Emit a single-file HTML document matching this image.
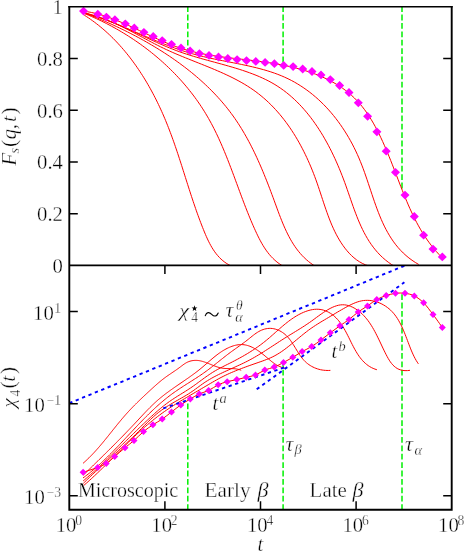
<!DOCTYPE html><html><head><meta charset="utf-8"><style>html,body{margin:0;padding:0;background:#fff}svg{display:block;will-change:transform;opacity:0.9999}text{font-family:"Liberation Serif",serif;fill:#000;stroke:#fff;stroke-width:0.35px}</style></head><body>
<svg width="464" height="551" viewBox="0 0 464 551">
<rect width="464" height="551" fill="#fff"/>
<defs><clipPath id="cu"><rect x="69.30" y="6.80" width="382.40" height="258.60"/></clipPath><clipPath id="cl"><rect x="69.30" y="265.40" width="382.40" height="244.30"/></clipPath></defs>
<path d="M187.80,6.20 V53.50" stroke="#00f000" stroke-width="1.5" stroke-dasharray="5.8 2.6" fill="none"/>
<path d="M187.80,510.00 V402.00" stroke="#00f000" stroke-width="1.5" stroke-dasharray="5.8 2.6" fill="none"/>
<path d="M283.10,6.20 V65.40" stroke="#00f000" stroke-width="1.5" stroke-dasharray="5.8 2.6" fill="none"/>
<path d="M283.10,510.00 V364.00" stroke="#00f000" stroke-width="1.5" stroke-dasharray="5.8 2.6" fill="none"/>
<path d="M402.00,6.20 V190.00" stroke="#00f000" stroke-width="1.5" stroke-dasharray="5.8 2.6" fill="none"/>
<path d="M402.00,510.00 V294.00" stroke="#00f000" stroke-width="1.5" stroke-dasharray="5.8 2.6" fill="none"/>
<g fill="none" stroke="#ff0000" stroke-width="1" clip-path="url(#cu)">
<path d="M84.21,15.09 L86.30,16.44 L88.37,17.81 L90.42,19.22 L92.44,20.66 L94.43,22.13 L96.41,23.63 L98.36,25.16 L100.28,26.72 L102.19,28.30 L104.07,29.92 L105.93,31.56 L107.76,33.23 L109.58,34.92 L111.37,36.64 L113.13,38.39 L114.88,40.16 L116.60,41.96 L118.31,43.78 L119.98,45.62 L121.64,47.48 L123.28,49.37 L124.89,51.28 L126.48,53.21 L128.05,55.16 L129.60,57.13 L131.13,59.12 L132.64,61.13 L134.12,63.16 L135.59,65.20 L137.03,67.27 L138.46,69.35 L139.86,71.44 L141.24,73.55 L142.60,75.68 L143.94,77.82 L145.26,79.98 L146.56,82.15 L147.84,84.34 L149.10,86.53 L150.34,88.74 L151.56,90.96 L152.76,93.20 L153.94,95.44 L155.10,97.69 L156.25,99.96 L157.37,102.23 L158.47,104.51 L159.56,106.80 L160.62,109.09 L161.67,111.40 L162.70,113.71 L163.71,116.02 L164.70,118.34 L165.67,120.67 L166.62,123.00 L167.56,125.34 L168.48,127.68 L169.39,130.02 L170.28,132.37 L171.16,134.72 L172.02,137.08 L172.88,139.44 L173.72,141.80 L174.55,144.17 L175.37,146.54 L176.18,148.91 L176.98,151.28 L177.77,153.66 L178.56,156.03 L179.34,158.41 L180.11,160.80 L180.88,163.18 L181.65,165.56 L182.41,167.95 L183.17,170.33 L183.93,172.72 L184.68,175.11 L185.44,177.50 L186.20,179.88 L186.95,182.27 L187.71,184.66 L188.47,187.04 L189.24,189.43 L190.01,191.81 L190.78,194.20 L191.56,196.58 L192.35,198.96 L193.14,201.34 L193.94,203.72 L194.75,206.09 L195.57,208.46 L196.39,210.83 L197.23,213.20 L198.08,215.56 L198.95,217.92 L199.82,220.28 L200.71,222.64 L201.61,224.99 L202.53,227.33 L203.47,229.67 L204.42,232.01 L205.40,234.34 L206.40,236.65 L207.44,238.94 L208.51,241.19 L209.64,243.42 L210.82,245.60 L212.05,247.73 L213.36,249.80 L214.73,251.81 L216.18,253.76 L217.72,255.63 L219.34,257.42 L221.06,259.12 L222.88,260.72 L224.82,262.23 L226.86,263.63 L229.03,264.91 L231.32,266.07"/>
<path d="M83.71,13.24 L86.28,14.27 L88.85,15.34 L91.40,16.44 L93.95,17.56 L96.49,18.71 L99.02,19.89 L101.55,21.10 L104.06,22.34 L106.56,23.60 L109.06,24.90 L111.54,26.22 L114.01,27.56 L116.47,28.94 L118.91,30.34 L121.34,31.77 L123.76,33.22 L126.17,34.70 L128.56,36.21 L130.94,37.74 L133.30,39.30 L135.65,40.88 L137.98,42.50 L140.29,44.13 L142.59,45.79 L144.86,47.48 L147.13,49.19 L149.37,50.92 L151.59,52.68 L153.79,54.47 L155.98,56.28 L158.14,58.11 L160.29,59.97 L162.41,61.85 L164.51,63.75 L166.58,65.68 L168.64,67.63 L170.67,69.60 L172.68,71.60 L174.66,73.62 L176.62,75.66 L178.56,77.73 L180.47,79.81 L182.35,81.92 L184.21,84.05 L186.04,86.20 L187.84,88.38 L189.62,90.57 L191.36,92.79 L193.08,95.03 L194.77,97.28 L196.43,99.56 L198.06,101.86 L199.66,104.18 L201.22,106.52 L202.76,108.88 L204.26,111.26 L205.73,113.66 L207.17,116.08 L208.58,118.52 L209.95,120.97 L211.30,123.44 L212.61,125.94 L213.90,128.44 L215.16,130.96 L216.40,133.50 L217.61,136.05 L218.80,138.61 L219.96,141.19 L221.11,143.78 L222.24,146.37 L223.35,148.98 L224.44,151.60 L225.52,154.23 L226.58,156.86 L227.63,159.50 L228.67,162.15 L229.70,164.80 L230.71,167.46 L231.72,170.12 L232.73,172.79 L233.72,175.46 L234.72,178.13 L235.70,180.80 L236.69,183.47 L237.68,186.15 L238.66,188.82 L239.65,191.49 L240.64,194.15 L241.63,196.82 L242.63,199.47 L243.64,202.13 L244.65,204.78 L245.67,207.42 L246.70,210.06 L247.74,212.69 L248.80,215.31 L249.87,217.92 L250.95,220.52 L252.05,223.11 L253.17,225.69 L254.30,228.25 L255.46,230.80 L256.63,233.34 L257.84,235.86 L259.08,238.35 L260.37,240.80 L261.70,243.21 L263.09,245.58 L264.54,247.89 L266.05,250.14 L267.65,252.32 L269.32,254.43 L271.08,256.46 L272.94,258.40 L274.90,260.25 L276.96,262.01 L279.14,263.65 L281.44,265.18 L283.87,266.60"/>
<path d="M84.00,12.68 L86.70,13.74 L89.40,14.81 L92.11,15.91 L94.83,17.02 L97.54,18.15 L100.26,19.30 L102.99,20.47 L105.71,21.66 L108.44,22.87 L111.16,24.10 L113.88,25.35 L116.61,26.62 L119.33,27.90 L122.05,29.21 L124.76,30.54 L127.47,31.89 L130.17,33.26 L132.87,34.65 L135.57,36.06 L138.25,37.49 L140.93,38.94 L143.60,40.41 L146.26,41.91 L148.91,43.43 L151.55,44.97 L154.17,46.53 L156.79,48.11 L159.39,49.71 L161.98,51.34 L164.55,52.99 L167.11,54.66 L169.65,56.35 L172.17,58.07 L174.68,59.81 L177.17,61.57 L179.64,63.36 L182.09,65.17 L184.52,67.00 L186.93,68.86 L189.32,70.74 L191.68,72.65 L194.02,74.57 L196.34,76.53 L198.63,78.51 L200.90,80.51 L203.14,82.53 L205.35,84.59 L207.54,86.66 L209.70,88.76 L211.83,90.89 L213.92,93.04 L215.99,95.22 L218.03,97.42 L220.03,99.65 L222.00,101.91 L223.94,104.19 L225.85,106.50 L227.71,108.83 L229.55,111.19 L231.34,113.58 L233.10,115.99 L234.82,118.43 L236.51,120.90 L238.16,123.39 L239.78,125.91 L241.36,128.45 L242.91,131.01 L244.43,133.59 L245.92,136.20 L247.38,138.82 L248.81,141.47 L250.22,144.13 L251.59,146.81 L252.95,149.51 L254.27,152.23 L255.58,154.96 L256.86,157.71 L258.12,160.47 L259.36,163.25 L260.58,166.04 L261.78,168.84 L262.96,171.65 L264.13,174.47 L265.28,177.30 L266.42,180.14 L267.54,182.99 L268.65,185.85 L269.75,188.72 L270.84,191.59 L271.92,194.46 L272.99,197.34 L274.05,200.22 L275.10,203.11 L276.16,205.99 L277.21,208.88 L278.27,211.75 L279.35,214.61 L280.44,217.45 L281.56,220.28 L282.70,223.08 L283.87,225.85 L285.08,228.59 L286.33,231.30 L287.63,233.96 L288.98,236.59 L290.38,239.17 L291.84,241.69 L293.37,244.16 L294.97,246.58 L296.65,248.93 L298.41,251.22 L300.25,253.43 L302.18,255.57 L304.20,257.64 L306.33,259.62 L308.55,261.52 L310.89,263.33 L313.34,265.05 L315.91,266.67"/>
<path d="M83.05,13.19 L86.58,13.91 L90.04,14.72 L93.44,15.62 L96.79,16.60 L100.08,17.65 L103.32,18.77 L106.52,19.96 L109.67,21.20 L112.79,22.51 L115.87,23.86 L118.92,25.25 L121.94,26.69 L124.94,28.16 L127.92,29.66 L130.89,31.19 L133.84,32.73 L136.78,34.30 L139.72,35.87 L142.66,37.45 L145.60,39.03 L148.55,40.60 L151.51,42.17 L154.48,43.72 L157.47,45.25 L160.49,46.76 L163.53,48.24 L166.59,49.69 L169.69,51.10 L172.81,52.49 L175.95,53.85 L179.11,55.18 L182.29,56.50 L185.48,57.81 L188.69,59.10 L191.90,60.38 L195.11,61.66 L198.33,62.94 L201.54,64.22 L204.75,65.51 L207.96,66.81 L211.15,68.12 L214.33,69.45 L217.50,70.80 L220.64,72.17 L223.77,73.57 L226.87,75.00 L229.94,76.46 L232.98,77.96 L235.99,79.51 L238.96,81.10 L241.89,82.73 L244.78,84.42 L247.62,86.17 L250.42,87.97 L253.17,89.84 L255.86,91.77 L258.49,93.77 L261.07,95.83 L263.60,97.95 L266.08,100.14 L268.50,102.39 L270.87,104.69 L273.19,107.06 L275.46,109.47 L277.67,111.94 L279.84,114.47 L281.96,117.04 L284.03,119.66 L286.05,122.33 L288.02,125.04 L289.94,127.80 L291.82,130.60 L293.65,133.44 L295.44,136.32 L297.18,139.24 L298.88,142.19 L300.53,145.18 L302.14,148.20 L303.70,151.25 L305.22,154.33 L306.70,157.44 L308.14,160.57 L309.54,163.73 L310.90,166.91 L312.21,170.12 L313.49,173.34 L314.73,176.58 L315.93,179.84 L317.10,183.11 L318.23,186.39 L319.34,189.68 L320.43,192.97 L321.51,196.27 L322.59,199.55 L323.67,202.83 L324.76,206.09 L325.87,209.34 L327.00,212.56 L328.16,215.76 L329.36,218.93 L330.60,222.07 L331.89,225.17 L333.25,228.23 L334.66,231.24 L336.15,234.21 L337.72,237.12 L339.37,239.97 L341.11,242.76 L342.96,245.49 L344.91,248.15 L346.97,250.72 L349.16,253.20 L351.48,255.55 L353.94,257.77 L356.56,259.82 L359.33,261.69 L362.29,263.37 L365.42,264.82 L368.75,266.03"/>
<path d="M83.19,12.79 L86.83,13.71 L90.42,14.69 L93.96,15.74 L97.47,16.85 L100.93,18.01 L104.35,19.23 L107.74,20.49 L111.10,21.80 L114.43,23.15 L117.73,24.53 L121.01,25.94 L124.28,27.38 L127.52,28.84 L130.75,30.32 L133.97,31.81 L137.18,33.31 L140.39,34.82 L143.59,36.33 L146.80,37.83 L150.01,39.33 L153.22,40.81 L156.45,42.28 L159.68,43.73 L162.94,45.15 L166.21,46.55 L169.50,47.91 L172.82,49.23 L176.16,50.52 L179.53,51.75 L182.94,52.94 L186.37,54.08 L189.83,55.18 L193.32,56.25 L196.82,57.29 L200.34,58.30 L203.87,59.29 L207.42,60.27 L210.96,61.24 L214.51,62.20 L218.06,63.17 L221.61,64.14 L225.15,65.12 L228.67,66.12 L232.18,67.13 L235.68,68.18 L239.15,69.25 L242.59,70.36 L246.01,71.52 L249.40,72.72 L252.75,73.97 L256.06,75.27 L259.33,76.64 L262.56,78.08 L265.74,79.59 L268.86,81.17 L271.93,82.84 L274.94,84.59 L277.89,86.44 L280.77,88.38 L283.60,90.40 L286.36,92.51 L289.07,94.70 L291.71,96.97 L294.30,99.32 L296.83,101.74 L299.30,104.24 L301.72,106.80 L304.08,109.44 L306.38,112.13 L308.63,114.89 L310.83,117.70 L312.98,120.58 L315.07,123.50 L317.11,126.48 L319.10,129.51 L321.05,132.58 L322.94,135.70 L324.78,138.85 L326.58,142.05 L328.33,145.28 L330.04,148.54 L331.69,151.84 L333.31,155.16 L334.88,158.51 L336.40,161.88 L337.89,165.27 L339.33,168.68 L340.73,172.10 L342.09,175.54 L343.41,178.98 L344.69,182.43 L345.94,185.89 L347.16,189.34 L348.36,192.79 L349.55,196.24 L350.74,199.67 L351.93,203.09 L353.13,206.49 L354.35,209.86 L355.60,213.21 L356.88,216.53 L358.20,219.81 L359.58,223.05 L361.01,226.26 L362.50,229.41 L364.07,232.52 L365.71,235.57 L367.44,238.57 L369.27,241.50 L371.20,244.37 L373.24,247.17 L375.40,249.89 L377.68,252.54 L380.10,255.10 L382.67,257.57 L385.38,259.93 L388.25,262.20 L391.30,264.35 L394.52,266.39"/>
<path d="M83.38,12.27 L87.11,13.39 L90.80,14.56 L94.46,15.77 L98.09,17.02 L101.69,18.31 L105.26,19.63 L108.81,20.99 L112.34,22.37 L115.85,23.78 L119.34,25.21 L122.82,26.65 L126.28,28.11 L129.73,29.57 L133.18,31.05 L136.61,32.53 L140.05,34.00 L143.48,35.48 L146.91,36.94 L150.34,38.40 L153.78,39.84 L157.22,41.26 L160.67,42.67 L164.13,44.05 L167.61,45.40 L171.10,46.72 L174.60,48.00 L178.13,49.25 L181.68,50.46 L185.25,51.62 L188.84,52.73 L192.47,53.79 L196.12,54.79 L199.81,55.74 L203.52,56.64 L207.25,57.50 L211.01,58.33 L214.78,59.12 L218.56,59.89 L222.35,60.65 L226.14,61.39 L229.94,62.13 L233.74,62.88 L237.53,63.63 L241.31,64.40 L245.07,65.19 L248.83,66.01 L252.56,66.86 L256.27,67.76 L259.95,68.70 L263.60,69.70 L267.22,70.76 L270.80,71.89 L274.34,73.08 L277.83,74.36 L281.28,75.73 L284.68,77.19 L288.02,78.75 L291.30,80.40 L294.53,82.15 L297.70,84.00 L300.81,85.94 L303.86,87.97 L306.86,90.09 L309.80,92.29 L312.68,94.57 L315.50,96.94 L318.26,99.39 L320.96,101.91 L323.60,104.51 L326.18,107.18 L328.70,109.92 L331.15,112.72 L333.55,115.60 L335.88,118.54 L338.15,121.53 L340.36,124.59 L342.51,127.71 L344.59,130.88 L346.60,134.10 L348.56,137.37 L350.44,140.69 L352.27,144.06 L354.02,147.47 L355.71,150.93 L357.34,154.42 L358.90,157.95 L360.39,161.51 L361.82,165.11 L363.19,168.73 L364.52,172.37 L365.81,176.03 L367.07,179.70 L368.31,183.38 L369.53,187.05 L370.75,190.73 L371.97,194.39 L373.20,198.04 L374.44,201.67 L375.71,205.27 L377.02,208.85 L378.36,212.39 L379.76,215.89 L381.21,219.35 L382.73,222.76 L384.32,226.11 L385.99,229.40 L387.75,232.63 L389.61,235.79 L391.57,238.87 L393.64,241.88 L395.84,244.80 L398.17,247.63 L400.63,250.36 L403.24,252.99 L406.00,255.52 L408.92,257.94 L412.01,260.24 L415.27,262.43 L418.72,264.48"/>
<path d="M83.59,11.12 L87.49,11.72 L91.35,12.45 L95.19,13.32 L98.99,14.31 L102.77,15.42 L106.52,16.62 L110.24,17.92 L113.95,19.31 L117.64,20.76 L121.31,22.29 L124.97,23.87 L128.61,25.50 L132.25,27.16 L135.87,28.85 L139.50,30.56 L143.12,32.28 L146.74,34.00 L150.36,35.71 L153.98,37.40 L157.61,39.06 L161.25,40.68 L164.90,42.25 L168.56,43.77 L172.24,45.22 L175.93,46.59 L179.65,47.88 L183.38,49.07 L187.14,50.17 L190.92,51.18 L194.72,52.11 L198.54,52.96 L202.37,53.75 L206.22,54.47 L210.09,55.13 L213.97,55.75 L217.87,56.32 L221.78,56.86 L225.70,57.36 L229.63,57.84 L233.56,58.30 L237.51,58.76 L241.47,59.20 L245.43,59.65 L249.39,60.10 L253.36,60.57 L257.33,61.06 L261.31,61.58 L265.28,62.13 L269.26,62.72 L273.22,63.35 L277.19,64.03 L281.14,64.76 L285.07,65.54 L288.98,66.38 L292.87,67.28 L296.73,68.25 L300.56,69.28 L304.36,70.39 L308.12,71.57 L311.83,72.83 L315.49,74.17 L319.11,75.60 L322.67,77.11 L326.17,78.72 L329.61,80.43 L332.98,82.24 L336.28,84.15 L339.51,86.17 L342.66,88.30 L345.72,90.54 L348.70,92.90 L351.59,95.38 L354.39,97.99 L357.09,100.73 L359.69,103.59 L362.19,106.59 L364.59,109.70 L366.90,112.92 L369.12,116.24 L371.27,119.65 L373.33,123.14 L375.32,126.71 L377.24,130.33 L379.10,134.00 L380.89,137.72 L382.63,141.47 L384.32,145.25 L385.97,149.04 L387.56,152.83 L389.13,156.62 L390.66,160.42 L392.16,164.20 L393.64,167.98 L395.10,171.75 L396.55,175.51 L397.99,179.26 L399.43,182.99 L400.87,186.70 L402.32,190.40 L403.79,194.07 L405.27,197.72 L406.77,201.34 L408.31,204.93 L409.88,208.50 L411.49,212.03 L413.16,215.54 L414.87,219.01 L416.65,222.44 L418.49,225.84 L420.40,229.20 L422.39,232.52 L424.47,235.79 L426.64,239.03 L428.90,242.22 L431.27,245.36 L433.74,248.45 L436.33,251.50 L439.04,254.49 L441.88,257.43"/>
</g>
<g fill="none" stroke="#ff0000" stroke-width="1" clip-path="url(#cl)">
<path d="M83.00,463.35 L83.77,462.67 L84.54,461.99 L85.30,461.30 L86.05,460.61 L86.80,459.91 L87.54,459.21 L88.28,458.50 L89.01,457.79 L89.73,457.07 L90.45,456.35 L91.16,455.62 L91.87,454.89 L92.58,454.16 L93.27,453.42 L93.97,452.68 L94.66,451.93 L95.34,451.18 L96.03,450.43 L96.70,449.67 L97.38,448.91 L98.05,448.15 L98.71,447.39 L99.38,446.62 L100.04,445.85 L100.70,445.08 L101.35,444.30 L102.00,443.53 L102.65,442.75 L103.30,441.97 L103.95,441.19 L104.59,440.40 L105.23,439.62 L105.87,438.83 L106.51,438.04 L107.14,437.25 L107.78,436.46 L108.41,435.67 L109.05,434.88 L109.68,434.09 L110.31,433.30 L110.95,432.51 L111.58,431.72 L112.21,430.92 L112.84,430.13 L113.48,429.34 L114.11,428.55 L114.74,427.76 L115.38,426.97 L116.01,426.18 L116.65,425.39 L117.28,424.61 L117.92,423.82 L118.56,423.04 L119.21,422.26 L119.85,421.48 L120.50,420.70 L121.15,419.92 L121.80,419.15 L122.45,418.38 L123.11,417.61 L123.76,416.84 L124.43,416.08 L125.09,415.31 L125.76,414.56 L126.43,413.80 L127.11,413.05 L127.79,412.30 L128.47,411.55 L129.16,410.81 L129.85,410.07 L130.54,409.34 L131.24,408.61 L131.94,407.88 L132.65,407.15 L133.35,406.42 L134.06,405.70 L134.78,404.98 L135.49,404.27 L136.21,403.55 L136.93,402.84 L137.65,402.13 L138.38,401.43 L139.10,400.72 L139.83,400.02 L140.56,399.32 L141.29,398.62 L142.03,397.92 L142.76,397.22 L143.50,396.53 L144.23,395.84 L144.97,395.14 L145.71,394.45 L146.45,393.76 L147.19,393.07 L147.93,392.39 L148.67,391.70 L149.41,391.01 L150.15,390.33 L150.89,389.64 L151.64,388.96 L152.38,388.28 L153.13,387.60 L153.87,386.92 L154.62,386.25 L155.37,385.58 L156.12,384.91 L156.88,384.24 L157.64,383.58 L158.40,382.93 L159.17,382.28 L159.94,381.63 L160.72,380.99 L161.50,380.35 L162.29,379.73 L163.08,379.10 L163.88,378.49 L164.69,377.88 L165.50,377.28 L166.32,376.69 L167.14,376.10 L167.97,375.52 L168.81,374.94 L169.65,374.37 L170.49,373.80 L171.33,373.23 L172.18,372.66 L173.02,372.08 L173.87,371.51 L174.72,370.94 L175.56,370.36 L176.41,369.77 L177.25,369.18 L178.09,368.58 L178.92,367.98 L179.75,367.36 L180.58,366.74 L181.40,366.11 L182.22,365.49 L183.05,364.88 L183.88,364.28 L184.72,363.71 L185.57,363.18 L186.43,362.68 L187.31,362.23 L188.21,361.84 L189.12,361.49 L190.04,361.18 L190.98,360.93 L191.92,360.72 L192.88,360.56 L193.84,360.45 L194.80,360.38 L195.77,360.36 L196.75,360.39 L197.72,360.46 L198.69,360.57 L199.67,360.73 L200.64,360.93 L201.61,361.16 L202.58,361.42 L203.55,361.72 L204.52,362.03 L205.49,362.37 L206.45,362.73 L207.42,363.11 L208.39,363.49 L209.36,363.88 L210.33,364.28 L211.31,364.68 L212.28,365.08 L213.25,365.47 L214.23,365.85 L215.21,366.22 L216.19,366.57 L217.17,366.90 L218.15,367.21 L219.13,367.49 L220.12,367.74 L221.11,367.96 L222.10,368.14 L223.10,368.28 L224.10,368.39 L225.10,368.46 L226.10,368.52 L227.11,368.55 L228.11,368.57 L229.12,368.58 L230.13,368.59 L231.14,368.61 L232.15,368.63 L233.16,368.67 L234.17,368.73 L235.18,368.82 L236.18,368.95 L237.19,369.11 L238.20,369.31 L239.20,369.57 L240.21,369.88 L241.21,370.25"/>
<path d="M83.24,475.16 L84.18,474.25 L85.12,473.33 L86.06,472.42 L86.99,471.51 L87.93,470.60 L88.87,469.69 L89.80,468.78 L90.74,467.87 L91.67,466.96 L92.60,466.05 L93.53,465.14 L94.46,464.24 L95.39,463.33 L96.32,462.42 L97.25,461.51 L98.18,460.61 L99.10,459.70 L100.03,458.79 L100.95,457.88 L101.88,456.98 L102.80,456.07 L103.72,455.16 L104.64,454.25 L105.56,453.34 L106.48,452.43 L107.40,451.52 L108.32,450.61 L109.23,449.70 L110.15,448.79 L111.06,447.88 L111.98,446.97 L112.89,446.05 L113.80,445.14 L114.71,444.22 L115.62,443.31 L116.53,442.39 L117.44,441.47 L118.35,440.55 L119.26,439.63 L120.16,438.71 L121.07,437.79 L121.97,436.86 L122.88,435.94 L123.78,435.01 L124.68,434.08 L125.58,433.15 L126.48,432.22 L127.38,431.29 L128.28,430.35 L129.18,429.41 L130.08,428.47 L130.97,427.53 L131.87,426.59 L132.76,425.65 L133.66,424.70 L134.55,423.75 L135.44,422.80 L136.34,421.85 L137.23,420.89 L138.12,419.94 L139.01,418.98 L139.90,418.02 L140.79,417.06 L141.68,416.11 L142.58,415.15 L143.47,414.20 L144.37,413.25 L145.27,412.30 L146.18,411.35 L147.08,410.41 L147.99,409.48 L148.91,408.55 L149.82,407.62 L150.75,406.71 L151.68,405.80 L152.61,404.89 L153.55,404.00 L154.49,403.11 L155.44,402.24 L156.40,401.37 L157.37,400.51 L158.34,399.67 L159.32,398.84 L160.30,398.01 L161.30,397.20 L162.30,396.39 L163.30,395.60 L164.31,394.81 L165.33,394.03 L166.35,393.26 L167.38,392.50 L168.41,391.74 L169.45,390.98 L170.49,390.23 L171.53,389.49 L172.58,388.75 L173.63,388.02 L174.68,387.28 L175.73,386.55 L176.79,385.83 L177.85,385.10 L178.91,384.37 L179.97,383.65 L181.03,382.92 L182.09,382.20 L183.15,381.47 L184.21,380.74 L185.28,380.01 L186.34,379.28 L187.40,378.54 L188.45,377.80 L189.51,377.06 L190.56,376.31 L191.61,375.55 L192.66,374.79 L193.71,374.02 L194.75,373.25 L195.79,372.47 L196.83,371.68 L197.86,370.88 L198.88,370.07 L199.90,369.26 L200.92,368.43 L201.93,367.59 L202.93,366.75 L203.94,365.89 L204.93,365.03 L205.93,364.16 L206.93,363.29 L207.92,362.42 L208.92,361.54 L209.92,360.67 L210.93,359.81 L211.93,358.95 L212.95,358.09 L213.97,357.24 L215.00,356.41 L216.04,355.58 L217.09,354.77 L218.15,353.97 L219.23,353.20 L220.31,352.44 L221.42,351.69 L222.53,350.98 L223.67,350.28 L224.82,349.61 L225.98,348.97 L227.16,348.37 L228.34,347.80 L229.54,347.26 L230.74,346.77 L231.95,346.31 L233.17,345.91 L234.39,345.55 L235.61,345.24 L236.83,344.99 L238.04,344.80 L239.26,344.66 L240.47,344.58 L241.68,344.58 L242.87,344.63 L244.06,344.76 L245.25,344.95 L246.42,345.19 L247.59,345.50 L248.74,345.86 L249.89,346.28 L251.03,346.74 L252.17,347.26 L253.29,347.81 L254.41,348.41 L255.52,349.05 L256.62,349.72 L257.71,350.43 L258.79,351.16 L259.87,351.93 L260.94,352.71 L262.00,353.53 L263.05,354.36 L264.09,355.20 L265.12,356.06 L266.15,356.93 L267.17,357.80 L268.19,358.67 L269.22,359.53 L270.24,360.38 L271.27,361.22 L272.31,362.03 L273.35,362.81 L274.40,363.56 L275.47,364.27 L276.56,364.94 L277.66,365.56 L278.78,366.13 L279.92,366.64 L281.08,367.08 L282.28,367.46 L283.49,367.76 L284.74,367.98"/>
<path d="M83.02,477.95 L84.32,477.00 L85.60,476.04 L86.88,475.07 L88.14,474.09 L89.40,473.10 L90.65,472.09 L91.88,471.08 L93.11,470.05 L94.34,469.02 L95.55,467.97 L96.76,466.92 L97.96,465.86 L99.15,464.79 L100.34,463.71 L101.52,462.62 L102.69,461.52 L103.86,460.42 L105.02,459.31 L106.18,458.20 L107.33,457.08 L108.47,455.95 L109.62,454.81 L110.75,453.68 L111.89,452.53 L113.02,451.38 L114.14,450.23 L115.26,449.07 L116.38,447.91 L117.50,446.75 L118.61,445.58 L119.73,444.41 L120.84,443.24 L121.94,442.07 L123.05,440.89 L124.15,439.71 L125.26,438.54 L126.36,437.36 L127.46,436.18 L128.57,435.00 L129.67,433.82 L130.77,432.64 L131.88,431.46 L132.98,430.29 L134.08,429.11 L135.19,427.94 L136.30,426.77 L137.41,425.60 L138.52,424.43 L139.64,423.27 L140.75,422.11 L141.87,420.96 L143.00,419.80 L144.12,418.66 L145.25,417.52 L146.39,416.38 L147.53,415.25 L148.67,414.12 L149.82,413.00 L150.97,411.89 L152.13,410.79 L153.29,409.69 L154.46,408.60 L155.64,407.51 L156.82,406.44 L158.00,405.37 L159.20,404.31 L160.40,403.26 L161.61,402.22 L162.83,401.19 L164.05,400.17 L165.28,399.16 L166.52,398.16 L167.77,397.17 L169.03,396.19 L170.30,395.23 L171.58,394.28 L172.86,393.33 L174.16,392.41 L175.47,391.49 L176.78,390.58 L178.10,389.69 L179.43,388.80 L180.77,387.92 L182.11,387.04 L183.45,386.17 L184.80,385.31 L186.15,384.45 L187.50,383.59 L188.86,382.73 L190.21,381.87 L191.57,381.01 L192.92,380.15 L194.27,379.29 L195.62,378.42 L196.97,377.55 L198.31,376.67 L199.64,375.78 L200.97,374.89 L202.30,373.98 L203.61,373.06 L204.92,372.14 L206.22,371.20 L207.51,370.25 L208.80,369.29 L210.07,368.32 L211.34,367.34 L212.61,366.35 L213.87,365.36 L215.13,364.37 L216.39,363.37 L217.64,362.37 L218.89,361.37 L220.14,360.37 L221.40,359.37 L222.65,358.38 L223.90,357.39 L225.16,356.40 L226.42,355.42 L227.68,354.44 L228.95,353.48 L230.23,352.52 L231.51,351.58 L232.79,350.64 L234.09,349.71 L235.38,348.79 L236.68,347.87 L237.98,346.95 L239.28,346.02 L240.58,345.09 L241.88,344.16 L243.18,343.21 L244.48,342.25 L245.77,341.27 L247.05,340.28 L248.33,339.26 L249.61,338.23 L250.88,337.20 L252.16,336.17 L253.45,335.16 L254.75,334.18 L256.07,333.24 L257.41,332.36 L258.78,331.53 L260.18,330.79 L261.61,330.13 L263.08,329.57 L264.57,329.10 L266.09,328.75 L267.62,328.50 L269.17,328.37 L270.72,328.37 L272.27,328.50 L273.82,328.75 L275.36,329.11 L276.87,329.60 L278.36,330.18 L279.82,330.87 L281.23,331.65 L282.59,332.51 L283.90,333.46 L285.14,334.47 L286.32,335.56 L287.44,336.70 L288.50,337.90 L289.52,339.14 L290.50,340.43 L291.44,341.75 L292.35,343.10 L293.23,344.48 L294.10,345.87 L294.96,347.27 L295.81,348.68 L296.66,350.09 L297.51,351.49 L298.38,352.87 L299.26,354.24 L300.17,355.58 L301.11,356.88 L302.08,358.15 L303.10,359.37 L304.16,360.55 L305.27,361.66 L306.44,362.72 L307.66,363.71 L308.92,364.65 L310.24,365.51 L311.59,366.32 L312.99,367.05 L314.43,367.72 L315.90,368.32 L317.40,368.85 L318.94,369.31 L320.51,369.69 L322.10,370.00 L323.72,370.23 L325.36,370.39 L327.02,370.46 L328.70,370.46 L330.39,370.37"/>
<path d="M83.26,480.85 L84.73,479.61 L86.19,478.36 L87.65,477.10 L89.10,475.84 L90.54,474.57 L91.98,473.29 L93.42,472.01 L94.84,470.72 L96.27,469.43 L97.69,468.13 L99.10,466.83 L100.51,465.52 L101.92,464.21 L103.32,462.89 L104.72,461.57 L106.12,460.25 L107.51,458.92 L108.90,457.59 L110.28,456.26 L111.67,454.92 L113.05,453.59 L114.43,452.24 L115.81,450.90 L117.19,449.56 L118.56,448.21 L119.94,446.87 L121.31,445.52 L122.68,444.17 L124.05,442.82 L125.43,441.47 L126.80,440.12 L128.17,438.78 L129.54,437.43 L130.91,436.08 L132.29,434.74 L133.66,433.39 L135.04,432.05 L136.42,430.71 L137.80,429.37 L139.18,428.03 L140.56,426.70 L141.95,425.36 L143.34,424.04 L144.73,422.71 L146.13,421.39 L147.52,420.07 L148.93,418.76 L150.33,417.45 L151.74,416.14 L153.16,414.85 L154.58,413.56 L156.02,412.29 L157.46,411.02 L158.91,409.77 L160.38,408.54 L161.85,407.32 L163.34,406.11 L164.85,404.93 L166.37,403.77 L167.91,402.63 L169.46,401.51 L171.04,400.42 L172.63,399.35 L174.23,398.30 L175.85,397.26 L177.48,396.23 L179.11,395.22 L180.74,394.20 L182.38,393.19 L184.02,392.18 L185.65,391.16 L187.27,390.12 L188.88,389.08 L190.48,388.02 L192.06,386.93 L193.63,385.83 L195.19,384.72 L196.74,383.59 L198.29,382.46 L199.83,381.32 L201.37,380.18 L202.91,379.05 L204.46,377.92 L206.01,376.81 L207.57,375.71 L209.15,374.63 L210.74,373.57 L212.34,372.54 L213.97,371.54 L215.62,370.56 L217.28,369.62 L218.97,368.71 L220.66,367.81 L222.37,366.93 L224.08,366.06 L225.80,365.20 L227.52,364.35 L229.24,363.49 L230.96,362.63 L232.66,361.76 L234.36,360.88 L236.06,359.99 L237.74,359.09 L239.42,358.18 L241.09,357.26 L242.75,356.32 L244.40,355.37 L246.05,354.41 L247.68,353.43 L249.30,352.44 L250.92,351.42 L252.52,350.40 L254.11,349.35 L255.70,348.28 L257.27,347.20 L258.83,346.09 L260.37,344.96 L261.91,343.81 L263.43,342.64 L264.94,341.45 L266.44,340.23 L267.93,338.98 L269.41,337.72 L270.88,336.45 L272.34,335.16 L273.80,333.87 L275.26,332.57 L276.72,331.27 L278.18,329.98 L279.65,328.68 L281.12,327.40 L282.60,326.13 L284.09,324.88 L285.59,323.65 L287.11,322.44 L288.64,321.25 L290.19,320.10 L291.76,318.98 L293.36,317.89 L294.97,316.85 L296.61,315.85 L298.28,314.89 L299.99,313.99 L301.72,313.14 L303.48,312.35 L305.28,311.63 L307.10,310.98 L308.94,310.41 L310.79,309.95 L312.65,309.58 L314.52,309.34 L316.38,309.22 L318.23,309.25 L320.06,309.41 L321.88,309.73 L323.67,310.20 L325.42,310.80 L327.13,311.52 L328.80,312.36 L330.41,313.30 L331.96,314.35 L333.44,315.48 L334.85,316.70 L336.20,317.98 L337.48,319.34 L338.70,320.77 L339.87,322.25 L340.99,323.78 L342.06,325.37 L343.09,327.00 L344.09,328.66 L345.06,330.36 L346.00,332.09 L346.92,333.84 L347.82,335.61 L348.72,337.39 L349.60,339.17 L350.48,340.96 L351.37,342.75 L352.26,344.53 L353.17,346.29 L354.09,348.03 L355.03,349.75 L356.00,351.45 L357.00,353.10 L358.04,354.72 L359.12,356.29 L360.24,357.81 L361.41,359.28 L362.64,360.68 L363.92,362.02 L365.27,363.29 L366.69,364.48 L368.18,365.59 L369.75,366.61 L371.40,367.55 L373.14,368.38 L374.97,369.11 L376.90,369.74"/>
<path d="M83.30,483.40 L84.80,481.92 L86.31,480.44 L87.83,478.97 L89.35,477.51 L90.87,476.05 L92.40,474.60 L93.93,473.15 L95.46,471.71 L97.00,470.27 L98.54,468.84 L100.08,467.41 L101.63,465.98 L103.17,464.56 L104.72,463.14 L106.27,461.72 L107.82,460.30 L109.37,458.88 L110.92,457.46 L112.47,456.05 L114.02,454.63 L115.57,453.21 L117.12,451.79 L118.67,450.37 L120.21,448.94 L121.76,447.51 L123.30,446.08 L124.83,444.65 L126.37,443.21 L127.90,441.77 L129.43,440.32 L130.95,438.87 L132.47,437.41 L133.99,435.95 L135.50,434.48 L137.00,433.00 L138.50,431.52 L139.99,430.02 L141.48,428.52 L142.96,427.02 L144.44,425.51 L145.93,424.00 L147.42,422.51 L148.92,421.03 L150.43,419.56 L151.96,418.11 L153.51,416.69 L155.08,415.30 L156.68,413.94 L158.30,412.62 L159.96,411.34 L161.64,410.10 L163.36,408.90 L165.10,407.73 L166.86,406.59 L168.64,405.48 L170.44,404.38 L172.25,403.31 L174.06,402.25 L175.89,401.20 L177.72,400.16 L179.56,399.12 L181.39,398.08 L183.21,397.03 L185.03,395.98 L186.84,394.90 L188.63,393.79 L190.39,392.66 L192.14,391.48 L193.86,390.27 L195.57,389.03 L197.28,387.78 L198.97,386.53 L200.68,385.28 L202.39,384.05 L204.12,382.85 L205.87,381.69 L207.64,380.57 L209.43,379.49 L211.24,378.44 L213.07,377.42 L214.92,376.44 L216.78,375.48 L218.65,374.54 L220.54,373.62 L222.44,372.72 L224.34,371.84 L226.25,370.96 L228.17,370.10 L230.08,369.23 L232.00,368.38 L233.93,367.52 L235.85,366.65 L237.76,365.78 L239.67,364.91 L241.58,364.01 L243.48,363.11 L245.37,362.18 L247.24,361.24 L249.11,360.27 L250.96,359.27 L252.80,358.25 L254.63,357.22 L256.45,356.16 L258.26,355.08 L260.06,353.99 L261.85,352.89 L263.63,351.77 L265.41,350.64 L267.19,349.51 L268.96,348.37 L270.72,347.22 L272.48,346.07 L274.25,344.92 L276.01,343.77 L277.76,342.62 L279.53,341.48 L281.29,340.34 L283.05,339.21 L284.82,338.09 L286.59,336.99 L288.36,335.89 L290.14,334.79 L291.92,333.71 L293.70,332.62 L295.48,331.53 L297.26,330.44 L299.04,329.34 L300.81,328.23 L302.58,327.11 L304.35,325.97 L306.11,324.81 L307.87,323.63 L309.62,322.43 L311.36,321.20 L313.10,319.94 L314.83,318.67 L316.56,317.39 L318.30,316.12 L320.04,314.85 L321.80,313.61 L323.57,312.40 L325.37,311.23 L327.18,310.11 L329.03,309.05 L330.90,308.07 L332.79,307.17 L334.71,306.39 L336.64,305.74 L338.59,305.23 L340.55,304.90 L342.51,304.76 L344.48,304.83 L346.45,305.10 L348.40,305.58 L350.33,306.22 L352.23,307.03 L354.08,307.98 L355.89,309.05 L357.63,310.23 L359.31,311.49 L360.91,312.83 L362.44,314.25 L363.91,315.73 L365.31,317.27 L366.65,318.87 L367.94,320.53 L369.18,322.23 L370.37,323.98 L371.52,325.77 L372.63,327.60 L373.70,329.47 L374.74,331.36 L375.75,333.27 L376.74,335.21 L377.71,337.16 L378.67,339.12 L379.61,341.09 L380.54,343.06 L381.47,345.03 L382.39,346.99 L383.32,348.94 L384.26,350.88 L385.21,352.80 L386.17,354.70 L387.15,356.56 L388.16,358.39 L389.22,360.15 L390.33,361.83 L391.52,363.41 L392.78,364.89 L394.14,366.23 L395.61,367.43 L397.20,368.47 L398.92,369.32 L400.79,369.98 L402.81,370.43 L405.01,370.64 L407.40,370.61 L409.98,370.31"/>
<path d="M83.22,485.90 L84.85,484.50 L86.48,483.08 L88.09,481.66 L89.69,480.22 L91.29,478.77 L92.88,477.31 L94.46,475.84 L96.03,474.36 L97.60,472.87 L99.16,471.37 L100.72,469.87 L102.27,468.35 L103.82,466.84 L105.36,465.31 L106.90,463.79 L108.44,462.26 L109.97,460.72 L111.51,459.19 L113.04,457.65 L114.57,456.11 L116.10,454.57 L117.64,453.03 L119.17,451.49 L120.70,449.95 L122.24,448.41 L123.78,446.88 L125.32,445.35 L126.87,443.83 L128.42,442.31 L129.97,440.79 L131.53,439.29 L133.09,437.78 L134.66,436.29 L136.24,434.81 L137.82,433.33 L139.42,431.86 L141.02,430.41 L142.62,428.96 L144.24,427.53 L145.87,426.11 L147.50,424.70 L149.15,423.31 L150.81,421.93 L152.48,420.56 L154.16,419.22 L155.86,417.88 L157.56,416.57 L159.29,415.27 L161.02,413.99 L162.77,412.73 L164.53,411.49 L166.31,410.26 L168.09,409.05 L169.89,407.85 L171.69,406.66 L173.51,405.49 L175.33,404.33 L177.16,403.18 L179.00,402.03 L180.84,400.90 L182.69,399.78 L184.55,398.66 L186.41,397.55 L188.27,396.44 L190.13,395.34 L192.00,394.24 L193.87,393.15 L195.74,392.06 L197.61,390.97 L199.48,389.88 L201.34,388.78 L203.21,387.69 L205.07,386.59 L206.93,385.50 L208.79,384.40 L210.65,383.31 L212.51,382.22 L214.37,381.15 L216.25,380.09 L218.13,379.05 L220.02,378.03 L221.93,377.03 L223.85,376.06 L225.79,375.12 L227.74,374.21 L229.70,373.32 L231.67,372.46 L233.66,371.61 L235.66,370.79 L237.66,369.98 L239.68,369.19 L241.70,368.42 L243.74,367.66 L245.78,366.91 L247.82,366.17 L249.87,365.43 L251.92,364.71 L253.98,363.99 L256.04,363.27 L258.10,362.56 L260.16,361.84 L262.22,361.12 L264.26,360.37 L266.28,359.60 L268.29,358.79 L270.26,357.94 L272.21,357.05 L274.12,356.10 L275.98,355.08 L277.81,354.01 L279.61,352.89 L281.38,351.72 L283.12,350.51 L284.84,349.25 L286.54,347.97 L288.22,346.65 L289.90,345.32 L291.56,343.96 L293.22,342.58 L294.88,341.20 L296.54,339.81 L298.21,338.43 L299.88,337.04 L301.55,335.66 L303.24,334.30 L304.94,332.95 L306.65,331.62 L308.38,330.31 L310.12,329.03 L311.88,327.79 L313.66,326.58 L315.46,325.40 L317.27,324.24 L319.09,323.10 L320.92,321.98 L322.76,320.87 L324.61,319.77 L326.45,318.68 L328.30,317.58 L330.15,316.48 L332.00,315.37 L333.86,314.27 L335.72,313.16 L337.59,312.05 L339.48,310.95 L341.38,309.85 L343.30,308.76 L345.23,307.67 L347.19,306.60 L349.17,305.55 L351.17,304.55 L353.19,303.62 L355.22,302.76 L357.27,302.01 L359.34,301.38 L361.42,300.88 L363.51,300.54 L365.61,300.36 L367.71,300.33 L369.81,300.45 L371.89,300.72 L373.96,301.13 L376.00,301.67 L378.01,302.34 L379.98,303.13 L381.90,304.04 L383.78,305.07 L385.59,306.20 L387.34,307.43 L389.01,308.76 L390.61,310.17 L392.12,311.68 L393.54,313.26 L394.89,314.91 L396.15,316.64 L397.35,318.43 L398.48,320.27 L399.56,322.16 L400.58,324.11 L401.55,326.09 L402.48,328.10 L403.38,330.15 L404.24,332.21 L405.08,334.30 L405.90,336.40 L406.70,338.50 L407.49,340.60 L408.29,342.70 L409.08,344.79 L409.88,346.86 L410.70,348.91 L411.53,350.93 L412.39,352.92 L413.28,354.87 L414.20,356.77 L415.17,358.63 L416.18,360.43 L417.25,362.16 L418.37,363.83"/>
<path d="M83.10,472.30 C85.53,471.48 93.85,468.87 97.70,467.40 C101.55,465.93 103.37,465.32 106.20,463.50 C109.03,461.68 111.57,459.13 114.70,456.50 C117.83,453.87 121.78,450.37 125.00,447.70 C128.22,445.03 130.92,443.18 134.00,440.50 C137.08,437.82 140.35,434.22 143.50,431.60 C146.65,428.98 149.78,426.88 152.90,424.80 C156.02,422.72 159.10,421.23 162.20,419.10 C165.30,416.97 168.40,414.37 171.50,412.00 C174.60,409.63 177.67,407.07 180.80,404.90 C183.93,402.73 187.22,400.83 190.30,399.00 C193.38,397.17 196.25,395.32 199.30,393.90 C202.35,392.48 205.45,392.02 208.60,390.50 C211.75,388.98 215.10,386.27 218.20,384.80 C221.30,383.33 224.10,382.57 227.20,381.70 C230.30,380.83 233.63,380.33 236.80,379.60 C239.97,378.87 243.08,378.07 246.20,377.30 C249.32,376.53 252.40,376.22 255.50,375.00 C258.60,373.78 261.68,371.32 264.80,370.00 C267.92,368.68 271.08,368.35 274.20,367.10 C277.32,365.85 280.40,364.13 283.50,362.50 C286.60,360.87 289.70,359.12 292.80,357.30 C295.90,355.48 298.95,353.40 302.10,351.60 C305.25,349.80 308.55,348.43 311.70,346.50 C314.85,344.57 317.90,342.28 321.00,340.00 C324.10,337.72 327.15,335.17 330.30,332.80 C333.45,330.43 336.78,328.02 339.90,325.80 C343.02,323.58 345.95,321.80 349.00,319.50 C352.05,317.20 355.12,314.27 358.20,312.00 C361.28,309.73 364.40,307.98 367.50,305.90 C370.60,303.82 373.68,301.22 376.80,299.50 C379.92,297.78 383.08,296.63 386.20,295.60 C389.32,294.57 392.37,293.68 395.50,293.30 C398.63,292.92 401.87,292.87 405.00,293.30 C408.13,293.73 411.20,294.32 414.30,295.90 C417.40,297.48 420.48,299.70 423.60,302.80 C426.72,305.90 429.88,310.40 433.00,314.50 C436.12,318.60 440.75,325.25 442.30,327.40"/>
</g>
<g fill="none" stroke="#0000ff" stroke-width="1.9" stroke-dasharray="3.3 3.6" clip-path="url(#cl)">
<path d="M69.30,403.20 L406.00,265.20"/>
<path d="M163.20,408.40 L284.00,367.60"/>
<path d="M256.70,389.30 L404.40,282.30"/>
</g>
<g fill="#ff00ff">
<path d="M79.00,11.10 L83.50,6.70 L88.00,11.10 L83.50,15.50Z M93.30,14.20 L97.80,9.80 L102.30,14.20 L97.80,18.60Z M101.90,17.10 L106.40,12.70 L110.90,17.10 L106.40,21.50Z M110.40,19.70 L114.90,15.30 L119.40,19.70 L114.90,24.10Z M120.80,23.80 L125.30,19.40 L129.80,23.80 L125.30,28.20Z M129.80,27.90 L134.30,23.50 L138.80,27.90 L134.30,32.30Z M139.40,32.30 L143.90,27.90 L148.40,32.30 L143.90,36.70Z M148.70,36.50 L153.20,32.10 L157.70,36.50 L153.20,40.90Z M157.70,40.60 L162.20,36.20 L166.70,40.60 L162.20,45.00Z M167.00,44.30 L171.50,39.90 L176.00,44.30 L171.50,48.70Z M176.50,47.90 L181.00,43.50 L185.50,47.90 L181.00,52.30Z M185.60,51.00 L190.10,46.60 L194.60,51.00 L190.10,55.40Z M194.90,53.60 L199.40,49.20 L203.90,53.60 L199.40,58.00Z M204.50,55.40 L209.00,51.00 L213.50,55.40 L209.00,59.80Z M214.00,57.00 L218.50,52.60 L223.00,57.00 L218.50,61.40Z M223.30,58.50 L227.80,54.10 L232.30,58.50 L227.80,62.90Z M232.60,59.60 L237.10,55.20 L241.60,59.60 L237.10,64.00Z M242.00,60.60 L246.50,56.20 L251.00,60.60 L246.50,65.00Z M251.30,61.40 L255.80,57.00 L260.30,61.40 L255.80,65.80Z M260.60,62.40 L265.10,58.00 L269.60,62.40 L265.10,66.80Z M269.90,63.70 L274.40,59.30 L278.90,63.70 L274.40,68.10Z M279.20,65.40 L283.70,61.00 L288.20,65.40 L283.70,69.80Z M288.60,66.60 L293.10,62.20 L297.60,66.60 L293.10,71.00Z M298.20,69.00 L302.70,64.60 L307.20,69.00 L302.70,73.40Z M307.50,71.50 L312.00,67.10 L316.50,71.50 L312.00,75.90Z M316.50,74.90 L321.00,70.50 L325.50,74.90 L321.00,79.30Z M325.80,79.60 L330.30,75.20 L334.80,79.60 L330.30,84.00Z M335.10,85.50 L339.60,81.10 L344.10,85.50 L339.60,89.90Z M344.50,92.50 L349.00,88.10 L353.50,92.50 L349.00,96.90Z M353.80,102.80 L358.30,98.40 L362.80,102.80 L358.30,107.20Z M363.10,116.30 L367.60,111.90 L372.10,116.30 L367.60,120.70Z M372.40,131.80 L376.90,127.40 L381.40,131.80 L376.90,136.20Z M381.70,151.20 L386.20,146.80 L390.70,151.20 L386.20,155.60Z M391.00,172.30 L395.50,167.90 L400.00,172.30 L395.50,176.70Z M400.50,195.10 L405.00,190.70 L409.50,195.10 L405.00,199.50Z M409.80,216.50 L414.30,212.10 L418.80,216.50 L414.30,220.90Z M419.10,235.20 L423.60,230.80 L428.10,235.20 L423.60,239.60Z M428.50,249.10 L433.00,244.70 L437.50,249.10 L433.00,253.50Z M437.80,256.90 L442.30,252.50 L446.80,256.90 L442.30,261.30Z"/>
<path d="M79.60,472.30 L83.10,468.80 L86.60,472.30 L83.10,475.80Z M94.20,467.40 L97.70,463.90 L101.20,467.40 L97.70,470.90Z M102.70,463.50 L106.20,460.00 L109.70,463.50 L106.20,467.00Z M111.20,456.50 L114.70,453.00 L118.20,456.50 L114.70,460.00Z M121.50,447.70 L125.00,444.20 L128.50,447.70 L125.00,451.20Z M130.50,440.50 L134.00,437.00 L137.50,440.50 L134.00,444.00Z M140.00,431.60 L143.50,428.10 L147.00,431.60 L143.50,435.10Z M149.40,424.80 L152.90,421.30 L156.40,424.80 L152.90,428.30Z M158.70,419.10 L162.20,415.60 L165.70,419.10 L162.20,422.60Z M168.00,412.00 L171.50,408.50 L175.00,412.00 L171.50,415.50Z M177.30,404.90 L180.80,401.40 L184.30,404.90 L180.80,408.40Z M186.80,399.00 L190.30,395.50 L193.80,399.00 L190.30,402.50Z M195.80,393.90 L199.30,390.40 L202.80,393.90 L199.30,397.40Z M205.10,390.50 L208.60,387.00 L212.10,390.50 L208.60,394.00Z M214.70,384.80 L218.20,381.30 L221.70,384.80 L218.20,388.30Z M223.70,381.70 L227.20,378.20 L230.70,381.70 L227.20,385.20Z M233.30,379.60 L236.80,376.10 L240.30,379.60 L236.80,383.10Z M242.70,377.30 L246.20,373.80 L249.70,377.30 L246.20,380.80Z M252.00,375.00 L255.50,371.50 L259.00,375.00 L255.50,378.50Z M261.30,370.00 L264.80,366.50 L268.30,370.00 L264.80,373.50Z M270.70,367.10 L274.20,363.60 L277.70,367.10 L274.20,370.60Z M280.00,362.50 L283.50,359.00 L287.00,362.50 L283.50,366.00Z M289.30,357.30 L292.80,353.80 L296.30,357.30 L292.80,360.80Z M298.60,351.60 L302.10,348.10 L305.60,351.60 L302.10,355.10Z M308.20,346.50 L311.70,343.00 L315.20,346.50 L311.70,350.00Z M317.50,340.00 L321.00,336.50 L324.50,340.00 L321.00,343.50Z M326.80,332.80 L330.30,329.30 L333.80,332.80 L330.30,336.30Z M336.40,325.80 L339.90,322.30 L343.40,325.80 L339.90,329.30Z M345.50,319.50 L349.00,316.00 L352.50,319.50 L349.00,323.00Z M354.70,312.00 L358.20,308.50 L361.70,312.00 L358.20,315.50Z M364.00,305.90 L367.50,302.40 L371.00,305.90 L367.50,309.40Z M373.30,299.50 L376.80,296.00 L380.30,299.50 L376.80,303.00Z M382.70,295.60 L386.20,292.10 L389.70,295.60 L386.20,299.10Z M392.00,293.30 L395.50,289.80 L399.00,293.30 L395.50,296.80Z M401.50,293.30 L405.00,289.80 L408.50,293.30 L405.00,296.80Z M410.80,295.90 L414.30,292.40 L417.80,295.90 L414.30,299.40Z M420.10,302.80 L423.60,299.30 L427.10,302.80 L423.60,306.30Z M429.50,314.50 L433.00,311.00 L436.50,314.50 L433.00,318.00Z M438.80,327.40 L442.30,323.90 L445.80,327.40 L442.30,330.90Z"/>
</g>
<g fill="none" stroke="#000" stroke-width="1.9">
<path d="M69.30,6.00 V509.70 H451.70 V6.00"/>
<path d="M69.30,265.40 H451.70"/>
<path d="M68.35,6.80 H452.65" stroke-width="1.6"/>
</g>
<g fill="none" stroke="#000" stroke-width="1.5">
<path d="M69.30,213.68 h8.50 M451.70,213.68 h-8.50"/>
<path d="M69.30,161.96 h8.50 M451.70,161.96 h-8.50"/>
<path d="M69.30,110.24 h8.50 M451.70,110.24 h-8.50"/>
<path d="M69.30,58.52 h8.50 M451.70,58.52 h-8.50"/>
<path d="M69.30,311.49 h8.50 M451.70,311.49 h-8.50"/>
<path d="M69.30,403.66 h8.50 M451.70,403.66 h-8.50"/>
<path d="M69.30,495.83 h8.50 M451.70,495.83 h-8.50"/>
<path d="M164.90,265.40 v8.50 M164.90,509.70 v-8.50"/>
<path d="M260.50,265.40 v8.50 M260.50,509.70 v-8.50"/>
<path d="M356.10,265.40 v8.50 M356.10,509.70 v-8.50"/>
</g>
<text x="62.90" y="14.10" font-size="20.70" text-anchor="end">1</text>
<text x="62.90" y="65.82" font-size="20.70" text-anchor="end">0.8</text>
<text x="62.90" y="117.54" font-size="20.70" text-anchor="end">0.6</text>
<text x="62.90" y="169.26" font-size="20.70" text-anchor="end">0.4</text>
<text x="62.90" y="220.98" font-size="20.70" text-anchor="end">0.2</text>
<text x="62.90" y="272.70" font-size="20.70" text-anchor="end">0</text>
<text x="61.00" y="312.99" font-size="13.60" text-anchor="end">1</text>
<text x="53.80" y="319.69" font-size="20.70" text-anchor="end">10</text>
<text x="61.00" y="405.16" font-size="13.60" text-anchor="end">−1</text>
<text x="44.80" y="411.86" font-size="20.70" text-anchor="end">10</text>
<text x="61.00" y="497.33" font-size="13.60" text-anchor="end">−3</text>
<text x="44.80" y="504.03" font-size="20.70" text-anchor="end">10</text>
<text x="55.70" y="532.40" font-size="20.70">10</text>
<text x="75.20" y="525.00" font-size="13.60">0</text>
<text x="151.30" y="532.40" font-size="20.70">10</text>
<text x="170.80" y="525.00" font-size="13.60">2</text>
<text x="246.90" y="532.40" font-size="20.70">10</text>
<text x="266.40" y="525.00" font-size="13.60">4</text>
<text x="342.50" y="532.40" font-size="20.70">10</text>
<text x="362.00" y="525.00" font-size="13.60">6</text>
<text x="438.10" y="532.40" font-size="20.70">10</text>
<text x="457.60" y="525.00" font-size="13.60">8</text>
<text x="260.30" y="551.00" font-size="20.70" text-anchor="middle" font-style="italic">t</text>
<g transform="translate(15.9,165.9) rotate(-90)">
<text x="0.20" y="0.00" font-size="21.30" font-style="italic">F</text>
<text x="12.40" y="3.20" font-size="14.40" font-style="italic">s</text>
<text x="19.00" y="0.00" font-size="21.50">(</text>
<text x="26.40" y="0.00" font-size="21.00" font-style="italic">q</text>
<text x="36.60" y="0.00" font-size="20.70">,</text>
<text x="44.00" y="0.00" font-size="21.50" font-style="italic">t</text>
<text x="51.50" y="0.00" font-size="21.50">)</text>
</g>
<g transform="translate(15.0,407.7) rotate(-90)">
<text transform="translate(0.0,0) scale(1.12,1)" font-size="19.3" font-style="italic">χ</text>
<text x="11.30" y="4.70" font-size="13.60">4</text>
<text x="19.20" y="0.00" font-size="21.50">(</text>
<text x="26.00" y="0.00" font-size="21.50" font-style="italic">t</text>
<text x="33.60" y="0.00" font-size="21.50">)</text>
</g>
<text x="77.90" y="496.70" font-size="20.70" textLength="100.3" lengthAdjust="spacingAndGlyphs">Microscopic</text>
<text x="204.60" y="496.70" font-size="20.70" textLength="46" lengthAdjust="spacingAndGlyphs">Early</text>
<text x="257.50" y="496.70" font-size="22.00" font-style="italic">β</text>
<text x="309.60" y="496.70" font-size="20.70" textLength="37.2" lengthAdjust="spacingAndGlyphs">Late</text>
<text x="352.50" y="496.70" font-size="22.00" font-style="italic">β</text>
<text x="285.60" y="450.80" font-size="22.00" font-style="italic">τ</text>
<text x="294.60" y="454.00" font-size="14.40" font-style="italic">β</text>
<text x="405.10" y="450.80" font-size="22.00" font-style="italic">τ</text>
<text x="414.40" y="454.60" font-size="14.40" font-style="italic">α</text>
<text x="212.60" y="410.00" font-size="20.70" font-style="italic">t</text>
<text x="219.60" y="402.50" font-size="14.40" font-style="italic">a</text>
<text x="331.40" y="358.00" font-size="20.70" font-style="italic">t</text>
<text x="338.40" y="350.50" font-size="14.40" font-style="italic">b</text>
<text transform="translate(179.3,316.7) scale(1.15,1)" font-size="19.3" font-style="italic">χ</text>
<text x="191.30" y="322.00" font-size="13.60">4</text>
<polygon points="194.50,305.30 195.23,307.39 197.45,307.44 195.69,308.79 196.32,310.91 194.50,309.65 192.68,310.91 193.31,308.79 191.55,307.44 193.77,307.39" fill="#000"/>
<path d="M205.3,315.6 C206.6,312.0 209.2,311.8 211.7,314.3 C214.2,316.9 216.8,316.7 218.2,313.0" fill="none" stroke="#000" stroke-width="1.15" stroke-linecap="round"/>
<text x="225.60" y="316.70" font-size="22.00" font-style="italic">τ</text>
<text x="235.20" y="321.60" font-size="14.40" font-style="italic">α</text>
<text x="236.00" y="309.50" font-size="13.60" font-style="italic">θ</text>
</svg></body></html>
